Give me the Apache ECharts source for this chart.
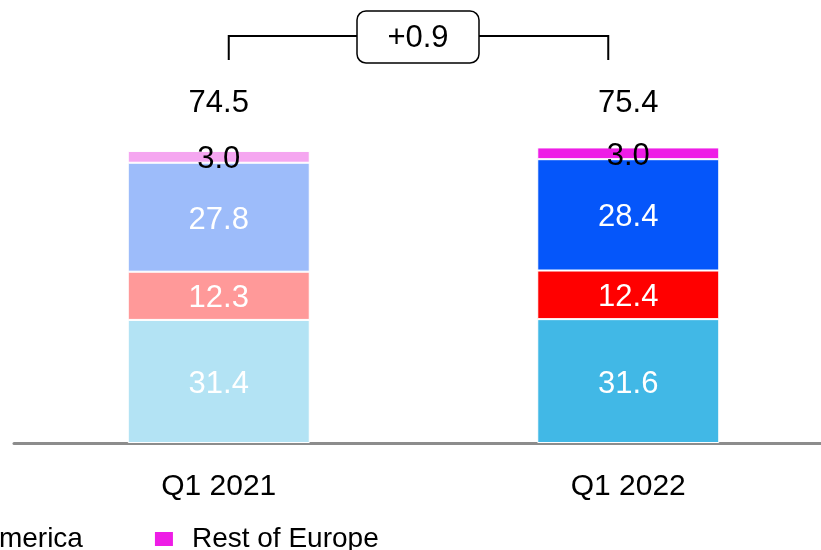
<!DOCTYPE html>
<html>
<head>
<meta charset="utf-8">
<script src="https://cdn.jsdelivr.net/npm/echarts@6/dist/echarts.min.js"></script>
<style>
html,body{margin:0;padding:0;background:#fff;}
#main{width:821px;height:550px;}
</style>
</head>
<body>
<div id="main"></div>
<script>
const categories = ['Q1 2021', 'Q1 2022'];
const seriesNames = ['Germany', 'UK', 'North America', 'Rest of Europe'];
const seg1 = [31.4, 31.6];
const seg2 = [12.3, 12.4];
const seg3 = [27.8, 28.4];
const seg4 = [3.0, 3.0];
const totals = [74.5, 75.4];
const legendItems = ['North America', 'Rest of Europe'];

const FONT = 'Liberation Sans, Arial, sans-serif';
const palette = [
  ['#b3e3f4', '#41b8e6'],
  ['#ff9999', '#ff0000'],
  ['#9dbcfa', '#0556fa'],
  ['#f5a6f0', '#ee1de6']
];
const labelColors = ['#ffffff', '#ffffff', '#ffffff', '#000000'];
const segs = [seg1, seg2, seg3, seg4];
const totalLabelLevel = 86.6; // value level where the total labels sit

const chart = echarts.init(document.getElementById('main'));

const series = segs.map((vals, i) => ({
  name: seriesNames[i],
  type: 'bar',
  stack: 'total',
  barWidth: 182,
  itemStyle: { color: palette[i][1], borderColor: '#ffffff', borderWidth: 1 },
  data: vals.map((v, j) => ({ value: v, itemStyle: { color: palette[i][j] } })),
  label: {
    show: true,
    position: 'inside',
    offset: [0, 3],
    color: labelColors[i],
    fontSize: 31,
    fontFamily: FONT,
    formatter: p => p.value.toFixed(1)
  },
  emphasis: { disabled: true },
  animation: false
}));

series.push({
  name: 'Total',
  type: 'scatter',
  symbolSize: 0,
  itemStyle: { opacity: 1 },
  data: totals.map((t, i) => [i, totalLabelLevel, t]),
  label: {
    show: true,
    position: 'inside',
    color: '#000',
    fontSize: 31,
    fontFamily: FONT,
    formatter: p => totals[p.dataIndex].toFixed(1)
  },
  emphasis: { disabled: true },
  animation: false
});

chart.setOption({
  animation: false,
  grid: { left: 14, width: 819, top: 51, bottom: 107, containLabel: false, outerBoundsMode: 'none' },
  legend: {
    data: legendItems,
    left: -140,
    top: 520,
    itemWidth: 20,
    itemHeight: 16,
    itemGap: 70,
    icon: 'rect',
    textStyle: { fontSize: 28, fontFamily: FONT, color: '#000', padding: [0, 0, 0, 13] }
  },
  xAxis: {
    type: 'category',
    data: categories,
    offset: 3,
    axisLine: { show: true, lineStyle: { color: '#8c8c8c', width: 3 } },
    axisTick: { show: false },
    axisLabel: { fontSize: 30, fontFamily: FONT, color: '#000', margin: 26 }
  },
  yAxis: {
    type: 'value',
    min: 0,
    max: 100,
    show: false,
    splitLine: { show: false }
  },
  series: series
});

// Bracket annotation showing the change between the totals
const delta = totals[1] - totals[0];
const deltaText = (delta >= 0 ? '+' : '') + delta.toFixed(1);
const x1 = chart.convertToPixel({ xAxisIndex: 0 }, categories[0]) + 10;
const x2 = chart.convertToPixel({ xAxisIndex: 0 }, categories[1]) - 20;
const lineY = 36;
const tickBottom = 60;
const boxW = 122, boxH = 52;
const boxCx = 418, boxCy = 37;
const lineStyle = { stroke: '#000', lineWidth: 2 };

chart.setOption({
  graphic: [
    { type: 'polyline', shape: { points: [[x1, tickBottom], [x1, lineY], [boxCx - boxW / 2, lineY]] }, style: Object.assign({ fill: null }, lineStyle), silent: true },
    { type: 'polyline', shape: { points: [[boxCx + boxW / 2, lineY], [x2, lineY], [x2, tickBottom]] }, style: Object.assign({ fill: null }, lineStyle), silent: true },
    { type: 'rect', shape: { x: boxCx - boxW / 2, y: boxCy - boxH / 2, width: boxW, height: boxH, r: 9 }, style: { fill: '#fff', stroke: '#000', lineWidth: 1.5 }, silent: true },
    { type: 'text', x: boxCx, y: boxCy + 1, style: { text: deltaText, fontSize: 31, fontFamily: FONT, fill: '#000', align: 'center', verticalAlign: 'middle' }, silent: true }
  ]
});
</script>
</body>
</html>
